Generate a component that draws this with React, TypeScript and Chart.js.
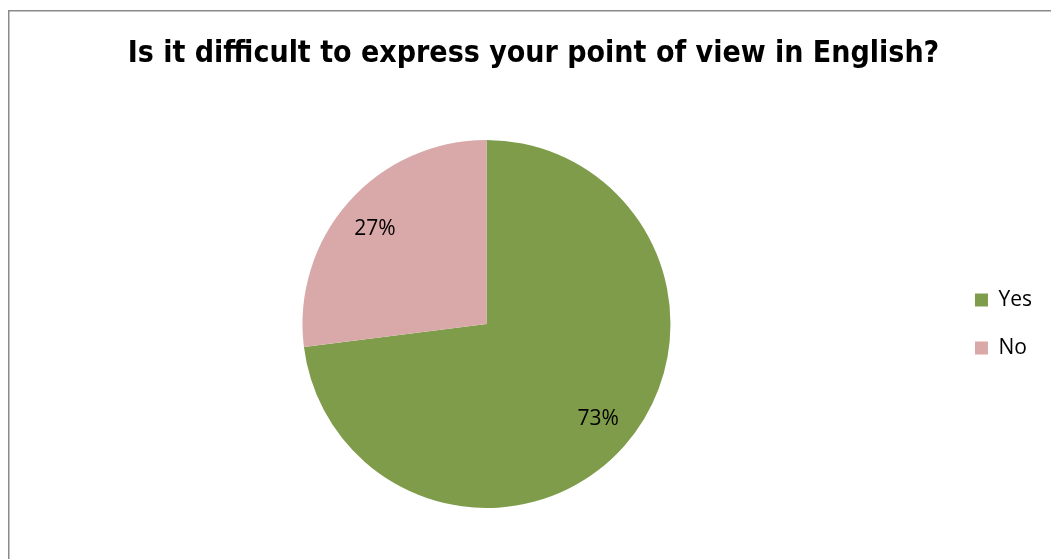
import React, { useEffect, useRef } from "react";
import { Chart, registerables } from "chart.js";

Chart.register(...registerables);

const titleText = "Is it difficult to express your point of view in English?";
const categories = ["Yes", "No"];
const shares = [73, 27];
const sliceColors = ["#7F9C4A", "#D9A9A9"];

const framePlugin = {
  id: "frame",
  beforeDraw(chart: any) {
    const ctx = chart.ctx;
    ctx.save();
    ctx.fillStyle = "#ffffff";
    ctx.fillRect(0, 0, chart.width, chart.height);
    ctx.strokeStyle = "#8a8a8a";
    ctx.lineWidth = 1.5;
    ctx.strokeRect(8.75, 10.75, chart.width + 20, chart.height + 20);
    ctx.restore();
  },
};

const labelPlugin = {
  id: "sliceLabels",
  afterDatasetsDraw(chart: any) {
    const ctx = chart.ctx;
    const meta = chart.getDatasetMeta(0);
    const values = chart.data.datasets[0].data as number[];
    ctx.save();
    ctx.font = '21px "Open Sans", sans-serif';
    ctx.fillStyle = "#000000";
    ctx.textAlign = "center";
    ctx.textBaseline = "middle";
    meta.data.forEach((arc: any, i: number) => {
      const p = arc.getProps(["x", "y", "startAngle", "endAngle", "outerRadius"], true);
      const mid = (p.startAngle + p.endAngle) / 2 - 0.02;
      const r = p.outerRadius * 0.795;
      ctx.fillText(values[i] + "%", p.x + Math.cos(mid) * r, p.y + Math.sin(mid) * r);
    });
    ctx.restore();
  },
};

export default function App() {
  const canvasRef = useRef<HTMLCanvasElement | null>(null);

  useEffect(() => {
    if (!canvasRef.current) return;
    const chart = new Chart(canvasRef.current, {
      type: "pie",
      data: {
        labels: categories,
        datasets: [
          {
            data: shares,
            backgroundColor: sliceColors,
            borderWidth: 0,
          },
        ],
      },
      options: {
        animation: false,
        responsive: false,
        maintainAspectRatio: false,
        layout: {
          padding: { left: 25, right: 9, top: 10, bottom: 51 },
        },
        plugins: {
          title: {
            display: true,
            text: titleText,
            color: "#000000",
            font: {
              family: '"Liberation Sans Narrow", "DejaVu Sans Condensed", "Open Sans", sans-serif',
              size: 30,
              weight: "bold",
              lineHeight: 1.2,
            },
            padding: { top: 26, bottom: 68 },
          },
          legend: {
            display: true,
            position: "right",
            align: "center",
            fullSize: false,
            labels: {
              boxWidth: 13,
              boxHeight: 13,
              padding: 27,
              color: "#000000",
              font: { family: '"Open Sans", sans-serif', size: 21 },
            },
          },
          tooltip: { enabled: false },
        },
      },
      plugins: [framePlugin, labelPlugin],
    });
    return () => chart.destroy();
  }, []);

  return (
    <div style={{ position: "fixed", left: 0, top: 0, width: 1051, height: 559 }}>
      <canvas ref={canvasRef} width={1051} height={559} style={{ display: "block" }} />
    </div>
  );
}
